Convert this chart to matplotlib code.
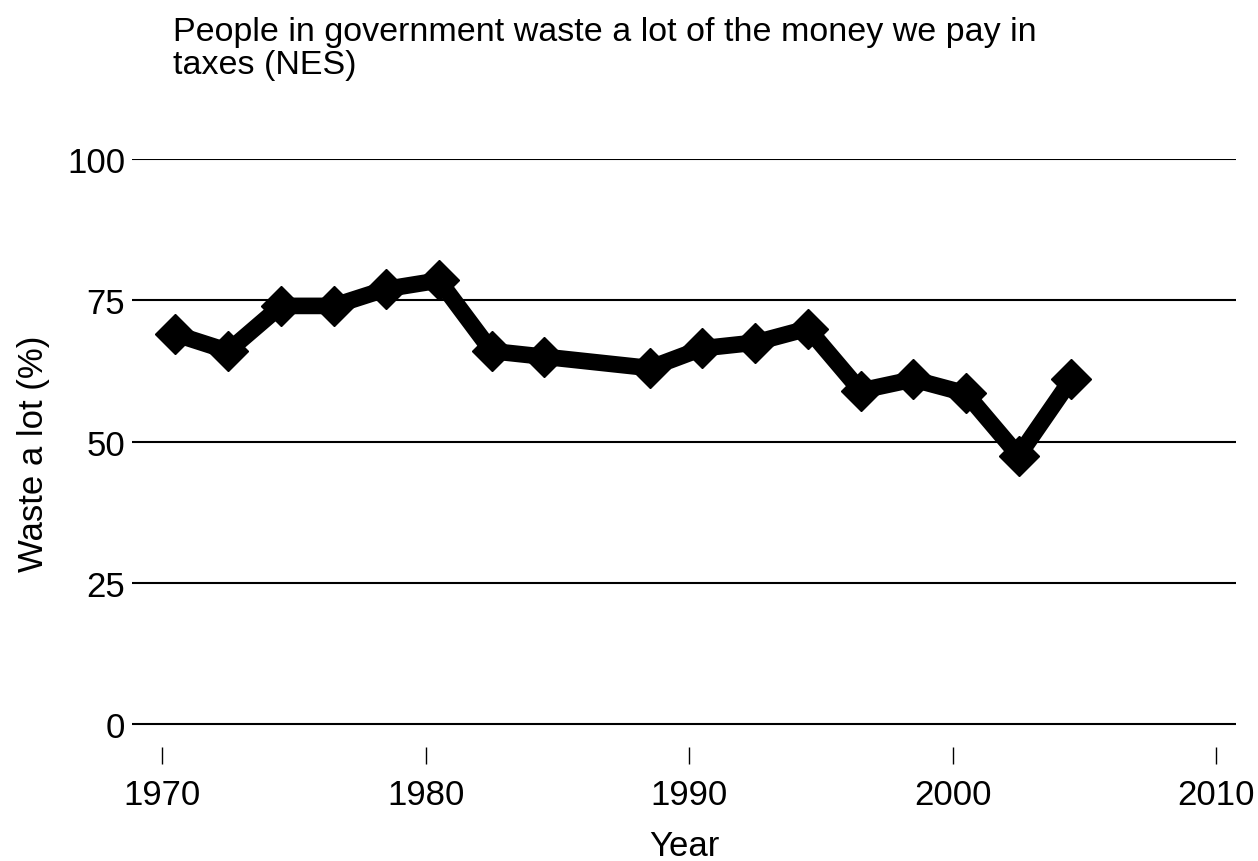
import matplotlib.pyplot as plt

plt.rcParams['font.family'] = ['Liberation Sans', 'DejaVu Sans']

years = [1970.5, 1972.5, 1974.5, 1976.5, 1978.5, 1980.5, 1982.5, 1984.5,
         1988.5, 1990.5, 1992.5, 1994.5, 1996.5, 1998.5, 2000.5, 2002.5, 2004.5]
waste = [69, 66, 74, 74, 77, 78.5, 66, 65, 63, 66.5, 67.5, 70, 59, 61, 58.5, 47.5, 61]

xticks = [1970, 1980, 1990, 2000, 2010]
yticks = [0, 25, 50, 75, 100]

fig = plt.figure(figsize=(12.58, 8.62), dpi=100)
ax = fig.add_axes([132/1258, (862-748)/862, (1236-132)/1258, (748-160)/862])

ax.plot(years, waste, color="black", lw=12, marker="D", markersize=20,
        solid_joinstyle="miter")

ax.set_xlim(1968.85, 2010.75)
ax.set_ylim(-4.07, 100)
ax.set_xticks(xticks)
ax.set_yticks(yticks)
ax.tick_params(axis="y", length=0, pad=5, labelsize=25)
ax.tick_params(axis="x", length=12, width=1, direction="out", pad=10, labelsize=25)
for s in ax.spines.values():
    s.set_visible(False)
ax.grid(axis="y", color="black", lw=1.5)
ax.set_axisbelow(True)

ax.set_xlabel("Year", fontsize=25, labelpad=13)
ax.set_ylabel("Waste a lot (%)", fontsize=25, labelpad=12)
fig.text(173/1258, 1 - 17/862, "People in government waste a lot of the money we pay in\ntaxes (NES)",
         fontsize=24.5, ha="left", va="top", linespacing=1.1)

fig.savefig("out.png", dpi=100)
